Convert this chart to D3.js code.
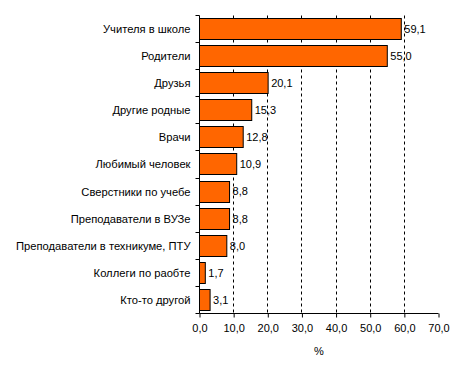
<!DOCTYPE html>
<html>
<head>
<meta charset="utf-8">
<script src="https://cdn.jsdelivr.net/npm/d3@7"></script>
<style>
  body { margin: 0; background: #fff; }
  svg { font-family: "Liberation Sans", Arial, sans-serif; }
</style>
</head>
<body>
<svg width="465" height="377"></svg>
<script>
// данные
var categories = ["Учителя в школе", "Родители", "Друзья", "Другие родные", "Врачи",
  "Любимый человек", "Сверстники по учебе", "Преподаватели в ВУЗе",
  "Преподаватели в техникуме, ПТУ", "Коллеги по раобте", "Кто-то другой"];
var values = [59.1, 55.0, 20.1, 15.3, 12.8, 10.9, 8.8, 8.8, 8.0, 1.7, 3.1];
var ticks = [0, 10, 20, 30, 40, 50, 60, 70];

var svg = d3.select("svg"),
    margin = {top: 15.5, left: 199.5},
    width = 239,
    height = 298;

var fmt = function(v) { return d3.format(".1f")(v).replace(".", ","); };

var x = d3.scaleLinear().domain([0, 70]).range([0, width]);
var y = d3.scaleBand().domain(categories).range([0, height]).paddingInner(0.22).paddingOuter(0.11);

var g = svg.append("g")
    .attr("transform", "translate(" + margin.left + "," + margin.top + ")");

// пунктирная сетка
g.selectAll(".grid")
  .data(ticks.filter(function(t) { return t > 0 && t < 70; }))
  .enter().append("line")
    .attr("x1", function(d) { return Math.round(x(d)); })
    .attr("x2", function(d) { return Math.round(x(d)); })
    .attr("y1", 0).attr("y2", height)
    .attr("stroke", "#000")
    .attr("stroke-dasharray", "3,3");

// столбцы
g.selectAll(".bar")
  .data(values)
  .enter().append("rect")
    .attr("x", 0)
    .attr("y", function(d, i) { return Math.round(y(categories[i])); })
    .attr("width", function(d) { return x(d); })
    .attr("height", Math.round(y.bandwidth()))
    .attr("fill", "#FF6600")
    .attr("stroke", "#000")
    .attr("stroke-width", 1);

// подписи значений
g.selectAll(".val")
  .data(values)
  .enter().append("text")
    .attr("x", function(d) { return x(d) + 3; })
    .attr("y", function(d, i) { return y(categories[i]) + y.bandwidth() / 2; })
    .attr("dy", "0.35em")
    .attr("font-size", "11px")
    .text(fmt);

// ось Y
var bounds = d3.range(categories.length + 1).map(function(i) { return height * i / categories.length; });
g.append("line").attr("x1", 0).attr("x2", 0).attr("y1", 0).attr("y2", height).attr("stroke", "#000");
g.selectAll(".ytick")
  .data(bounds)
  .enter().append("line")
    .attr("x1", -4).attr("x2", 0)
    .attr("y1", function(d) { return Math.round(d); })
    .attr("y2", function(d) { return Math.round(d); })
    .attr("stroke", "#000");
g.selectAll(".ylab")
  .data(categories)
  .enter().append("text")
    .attr("x", -9)
    .attr("y", function(d) { return y(d) + y.bandwidth() / 2; })
    .attr("dy", "0.35em")
    .attr("text-anchor", "end")
    .attr("font-size", "11.2px")
    .text(function(d) { return d; });

// ось X
var xAxis = g.append("g")
    .attr("transform", "translate(0," + height + ")")
    .call(d3.axisBottom(x).tickValues(ticks).tickSize(4).tickFormat(fmt));
xAxis.select(".domain").attr("d", "M0,0H" + width);
xAxis.selectAll("text").attr("font-size", "11px").attr("font-family", "Liberation Sans, Arial, sans-serif").attr("dy", "1em");

svg.append("text")
    .attr("x", margin.left + width / 2)
    .attr("y", 351)
    .attr("dy", "0.35em")
    .attr("text-anchor", "middle")
    .attr("font-size", "11px")
    .text("%");
</script>
</body>
</html>
